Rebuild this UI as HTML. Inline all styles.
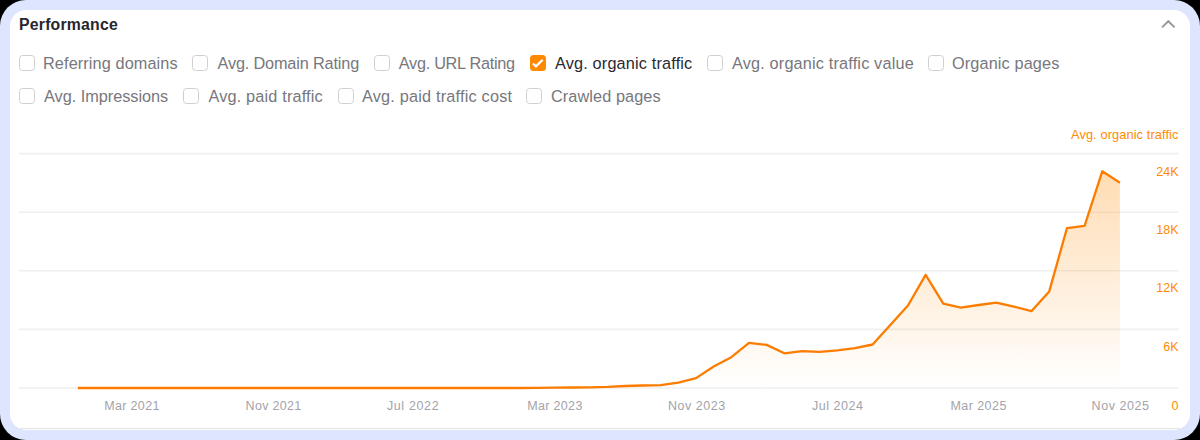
<!DOCTYPE html>
<html><head><meta charset="utf-8"><style>
html,body{margin:0;padding:0;background:#000;width:1200px;height:440px;overflow:hidden}
.outer{position:absolute;left:0;top:0;width:1200px;height:440px;background:#dee5fe;border-radius:26px}
.card{position:absolute;left:10px;top:10px;width:1180px;height:420px;background:#fff;border-radius:16px;overflow:hidden}
.bl{position:absolute;left:10px;right:10px;top:418px;height:1px;background:#e3e3e3}
.ab{position:absolute;left:0;top:0;width:1200px;height:440px}
span{position:absolute;white-space:nowrap;font-family:"Liberation Sans",sans-serif}
.title{left:19px;top:16.5px;font-size:15.8px;letter-spacing:0.22px;font-weight:bold;color:#26262c;line-height:16px}
.lbl{font-size:16.3px;line-height:16px;color:#77777d}
.lbl.sel{color:#2a2a30}
.cb{position:absolute;width:14px;height:14px;border:1px solid #d0d0d0;border-radius:3.5px;box-sizing:content-box}
.cb.on{width:16px;height:16px;border:none;background:#ff8a00}
.cb svg{position:absolute;left:0;top:0}
.xl{top:400.3px;width:100px;text-align:center;font-size:12.5px;line-height:12px;color:#a3a3a9}
.yl{right:21.5px;font-size:12.5px;line-height:12px;color:#ff8a00}
.ytitle{right:21.5px;top:129.1px;font-size:12.8px;line-height:12px;color:#ff8a00;letter-spacing:0.1px}
</style></head><body>
<div class="outer"></div>
<div class="card"><div class="bl"></div></div>
<div class="ab">
<span class="title">Performance</span>
<svg style="position:absolute;left:0;top:0" width="1200" height="440">
<path d="M1162 27.4 L1168.3 21.2 L1174.6 27.4" fill="none" stroke="#98989c" stroke-width="1.9"/>
</svg>
<div class="cb" style="left:19px;top:55px"></div><span class="lbl" style="left:43.00px;top:54.75px;letter-spacing:0.100px">Referring domains</span><div class="cb" style="left:192px;top:55px"></div><span class="lbl" style="left:217.50px;top:54.75px;letter-spacing:-0.165px">Avg. Domain Rating</span><div class="cb" style="left:374px;top:55px"></div><span class="lbl" style="left:398.75px;top:54.75px;letter-spacing:-0.286px">Avg. URL Rating</span><div class="cb on" style="left:530px;top:55px"><svg width="16" height="16" viewBox="0 0 16 16"><path d="M2.9 8.5 L5.9 11.4 L12.7 4.8" fill="none" stroke="#fff" stroke-width="2.2"/></svg></div><span class="lbl sel" style="left:555.00px;top:54.75px;letter-spacing:0.158px">Avg. organic traffic</span><div class="cb" style="left:707px;top:55px"></div><span class="lbl" style="left:732.00px;top:54.75px;letter-spacing:0.160px">Avg. organic traffic value</span><div class="cb" style="left:928px;top:55px"></div><span class="lbl" style="left:952.00px;top:54.75px;letter-spacing:0.117px">Organic pages</span><div class="cb" style="left:19px;top:88px"></div><span class="lbl" style="left:44.00px;top:87.80px;letter-spacing:-0.027px">Avg. Impressions</span><div class="cb" style="left:183px;top:88px"></div><span class="lbl" style="left:208.50px;top:87.80px;letter-spacing:0.163px">Avg. paid traffic</span><div class="cb" style="left:338px;top:88px"></div><span class="lbl" style="left:362.00px;top:87.80px;letter-spacing:0.191px">Avg. paid traffic cost</span><div class="cb" style="left:526px;top:88px"></div><span class="lbl" style="left:551.00px;top:87.80px;letter-spacing:0.083px">Crawled pages</span>
<svg style="position:absolute;left:0;top:0" width="1200" height="440">
<defs><linearGradient id="g" gradientUnits="userSpaceOnUse" x1="0" y1="153" x2="0" y2="388">
<stop offset="0" stop-color="#ff8a00" stop-opacity="0.32"/><stop offset="1" stop-color="#ff8a00" stop-opacity="0"/></linearGradient></defs>
<g stroke="#efefef" stroke-width="1.6"><line x1="19" x2="1178.5" y1="153.6" y2="153.6"/><line x1="19" x2="1178.5" y1="212.2" y2="212.2"/><line x1="19" x2="1178.5" y1="270.8" y2="270.8"/><line x1="19" x2="1178.5" y1="329.4" y2="329.4"/><line x1="19" x2="1178.5" y1="388" y2="388"/></g>
<path d="M77.85,388.0 L95.51,388.0 L113.17,388.0 L130.84,388.0 L148.5,388.0 L166.16,388.0 L183.82,388.0 L201.48,388.0 L219.15,388.0 L236.81,388.0 L254.47,388.0 L272.13,388.0 L289.79,388.0 L307.46,388.0 L325.12,388.0 L342.78,388.0 L360.44,388.0 L378.1,388.0 L395.77,388.0 L413.43,388.0 L431.09,388.0 L448.75,388.0 L466.41,388.0 L484.08,388.0 L501.74,388.0 L519.4,388.0 L537.06,387.9 L554.72,387.7 L572.39,387.5 L590.05,387.3 L607.71,386.9 L625.37,386.0 L643.03,385.5 L660.7,385.1 L678.36,382.7 L696.02,378.1 L713.68,366.5 L731.34,357.2 L749.01,342.8 L766.67,344.9 L784.33,353.3 L801.99,351.1 L819.65,351.8 L837.32,350.4 L854.98,348.2 L872.64,344.5 L890.3,325.0 L907.96,305.5 L925.63,274.9 L943.29,303.6 L960.95,307.7 L978.61,305.0 L996.27,302.7 L1013.94,306.6 L1031.6,311.1 L1049.26,291.4 L1066.92,228.2 L1084.58,225.8 L1102.25,171.3 L1119.91,182.7 L1119.91,388.5 L77.85,388.5 Z" fill="url(#g)"/>
<path d="M77.85,388.0 L95.51,388.0 L113.17,388.0 L130.84,388.0 L148.5,388.0 L166.16,388.0 L183.82,388.0 L201.48,388.0 L219.15,388.0 L236.81,388.0 L254.47,388.0 L272.13,388.0 L289.79,388.0 L307.46,388.0 L325.12,388.0 L342.78,388.0 L360.44,388.0 L378.1,388.0 L395.77,388.0 L413.43,388.0 L431.09,388.0 L448.75,388.0 L466.41,388.0 L484.08,388.0 L501.74,388.0 L519.4,388.0 L537.06,387.9 L554.72,387.7 L572.39,387.5 L590.05,387.3 L607.71,386.9 L625.37,386.0 L643.03,385.5 L660.7,385.1 L678.36,382.7 L696.02,378.1 L713.68,366.5 L731.34,357.2 L749.01,342.8 L766.67,344.9 L784.33,353.3 L801.99,351.1 L819.65,351.8 L837.32,350.4 L854.98,348.2 L872.64,344.5 L890.3,325.0 L907.96,305.5 L925.63,274.9 L943.29,303.6 L960.95,307.7 L978.61,305.0 L996.27,302.7 L1013.94,306.6 L1031.6,311.1 L1049.26,291.4 L1066.92,228.2 L1084.58,225.8 L1102.25,171.3 L1119.91,182.7" fill="none" stroke="#fc7c00" stroke-width="2.3" stroke-linejoin="round"/>
</svg>
<span class="ytitle">Avg. organic traffic</span>
<span class="xl" style="left:81.99px;letter-spacing:0.329px">Mar 2021</span><span class="xl" style="left:223.63px;letter-spacing:0.314px">Nov 2021</span><span class="xl" style="left:363.08px;letter-spacing:0.643px">Jul 2022</span><span class="xl" style="left:504.97px;letter-spacing:0.329px">Mar 2023</span><span class="xl" style="left:646.77px;letter-spacing:0.528px">Nov 2023</span><span class="xl" style="left:787.82px;letter-spacing:0.543px">Jul 2024</span><span class="xl" style="left:928.61px;letter-spacing:0.457px">Mar 2025</span><span class="xl" style="left:1070.61px;letter-spacing:0.572px">Nov 2025</span>
<span class="yl" style="top:165.50px">24K</span><span class="yl" style="top:223.90px">18K</span><span class="yl" style="top:281.70px">12K</span><span class="yl" style="top:340.70px">6K</span><span class="yl" style="top:399.50px">0</span>
</div>
</body></html>
